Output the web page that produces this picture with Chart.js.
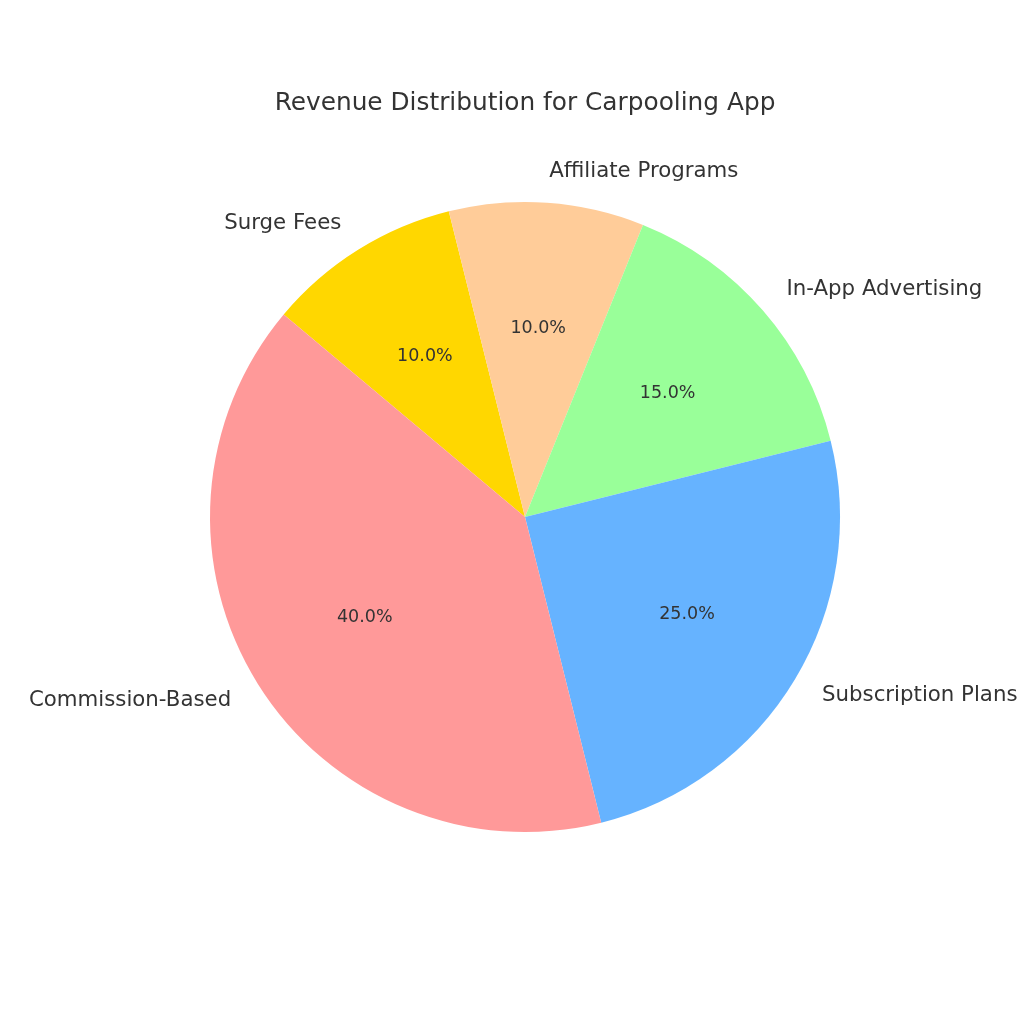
<!DOCTYPE html>
<html>
<head>
<meta charset="utf-8">
<title>Revenue Distribution for Carpooling App</title>
<script src="https://cdn.jsdelivr.net/npm/chart.js@4.4.1/dist/chart.umd.min.js"></script>
<style>
    html, body { margin: 0; padding: 0; background: #fff; }
    #wrap { width: 1024px; height: 1024px; }
</style>
</head>
<body>
<div id="wrap"><canvas id="pieChart" width="1024" height="1024"></canvas></div>
<script>
// data, in the order the slices go round (counter-clockwise from 140deg)
const categories = ['Commission-Based', 'Subscription Plans', 'In-App Advertising', 'Affiliate Programs', 'Surge Fees'];
const shares = [40, 25, 15, 10, 10];
const sliceColors = ['#ff9999', '#66b3ff', '#99ff99', '#ffcc99', '#ffd700'];
const chartTitle = 'Revenue Distribution for Carpooling App';

const FONT = '"DejaVu Sans", "Liberation Sans", sans-serif';
const TEXT = '#333333';

// Chart.js draws clockwise, so feed the slices in reverse
const labelsCw = categories.slice().reverse();
const valuesCw = shares.slice().reverse();
const colorsCw = sliceColors.slice().reverse();

// labels outside at 1.1r, percentages inside at 0.6r, title on top
const pieText = {
    id: 'pieText',
    afterDatasetsDraw(chart) {
        const ctx = chart.ctx;
        const arcs = chart.getDatasetMeta(0).data;
        const total = valuesCw.reduce((a, b) => a + b, 0);
        ctx.save();
        ctx.fillStyle = TEXT;
        arcs.forEach((arc, i) => {
            const mid = (arc.startAngle + arc.endAngle) / 2;
            const r = arc.outerRadius;
            const c = Math.cos(mid), s = Math.sin(mid);

            ctx.font = '21.3px ' + FONT;
            ctx.textBaseline = 'middle';
            ctx.textAlign = c > 0 ? 'left' : 'right';
            ctx.fillText(labelsCw[i], arc.x + c * r * 1.1, arc.y + s * r * 1.1);

            ctx.font = '17.5px ' + FONT;
            ctx.textAlign = 'center';
            const pct = (valuesCw[i] / total * 100).toFixed(1) + '%';
            ctx.fillText(pct, arc.x + c * r * 0.6, arc.y + s * r * 0.6);
        });

        ctx.font = '24.8px ' + FONT;
        ctx.textAlign = 'center';
        ctx.textBaseline = 'middle';
        ctx.fillText(chartTitle, 525, 104);
        ctx.restore();
    }
};

new Chart(document.getElementById('pieChart'), {
    type: 'pie',
    data: {
        labels: labelsCw,
        datasets: [{
            data: valuesCw,
            backgroundColor: colorsCw,
            borderWidth: 0
        }]
    },
    options: {
        responsive: false,
        animation: false,
        devicePixelRatio: 1,
        rotation: -50,
        layout: {
            padding: { left: 210, right: 184, top: 202, bottom: 192 }
        },
        plugins: {
            legend: { display: false },
            tooltip: { enabled: false },
            title: { display: false }
        }
    },
    plugins: [pieText]
});
</script>
</body>
</html>
